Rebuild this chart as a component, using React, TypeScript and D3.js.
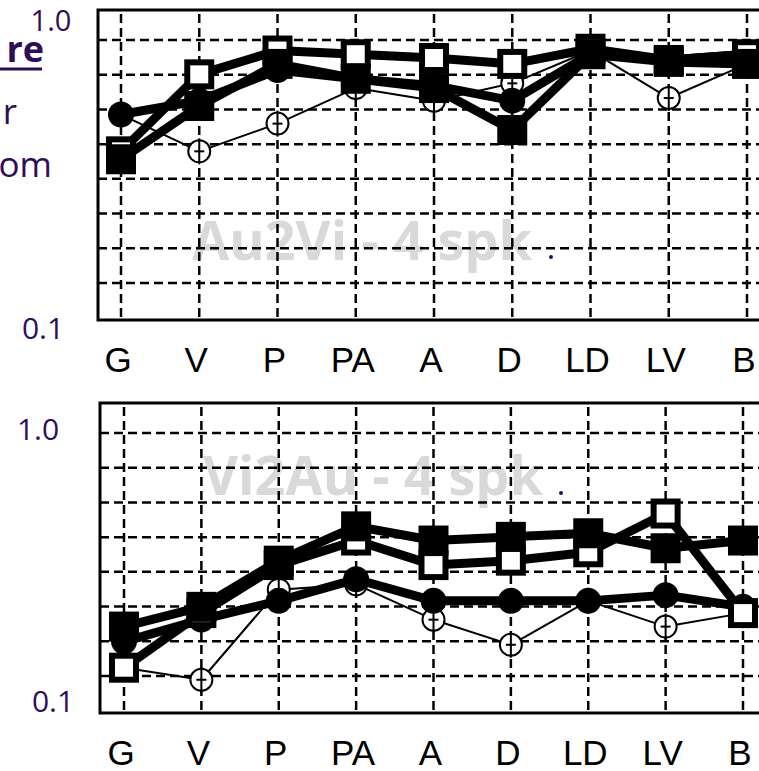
import React from "react";
import * as d3 from "d3";

const categories = ["G", "V", "P", "PA", "A", "D", "LD", "LV", "B"];

// Panel 1: Au2Vi - 4 spk.
const au2viFilledSq = [0.33, 0.49, 0.67, 0.6, 0.56, 0.41, 0.72, 0.68, 0.67];
const au2viOpenSq = [0.35, 0.62, 0.74, 0.72, 0.7, 0.67, 0.75, 0.69, 0.72];
const au2viFilledCirc = [0.46, 0.51, 0.64, 0.6, 0.57, 0.51, 0.72, 0.69, 0.72];
const au2viOpenCirc = [0.46, 0.35, 0.43, 0.56, 0.51, 0.58, 0.74, 0.52, 0.67];

// Panel 2: Vi2Au - 4 spk.
const vi2auFilledSq = [0.19, 0.22, 0.31, 0.4, 0.36, 0.37, 0.38, 0.34, 0.36];
const vi2auOpenSq = [0.14, 0.21, 0.3, 0.36, 0.3, 0.31, 0.33, 0.44, 0.21];
const vi2auFilledCirc = [0.17, 0.2, 0.23, 0.27, 0.23, 0.23, 0.23, 0.24, 0.22];
const vi2auOpenCirc = [0.14, 0.128, 0.25, 0.26, 0.2, 0.166, 0.23, 0.19, 0.21];

const yDomain = [0.1, 1.0];
const yTickLabels = ["1.0", "0.1"];

const PURPLE = "#2f0d57";

type Series = { values: number[]; kind: "fsq" | "osq" | "fc" | "oc" };

function Panel({
  top,
  left,
  xStart,
  xEnd,
  title,
  titleX,
  series,
}: {
  top: number;
  left: number;
  xStart: number;
  xEnd: number;
  title: string;
  titleX: number;
  series: Series[];
}) {
  const bottom = top + 310;
  const x = d3.scalePoint<string>().domain(categories).range([xStart, xEnd]);
  const y = d3.scaleLog().domain(yDomain).range([bottom, top]);
  const grid = d3.scaleLinear().domain([0, 7]).range([top + 30, top + 273]);
  const gridSteps = d3.range(8);
  const right = 800;
  const line = (vals: number[]) =>
    d3
      .line<number>()
      .x((_, i) => x(categories[i]) as number)
      .y((v) => y(v))(vals) as string;

  return (
    <g>
      <rect x={left} y={top} width={right - left} height={bottom - top} fill="#fff" />
      {/* watermark */}
      <text
        x={titleX}
        y={top + (top > 100 ? 92 : 250)}
        fontFamily="'Open Sans', sans-serif"
        fontWeight={700}
        fontSize={54}
        fill="#d9d9d9"
      >
        {title}
      </text>
      {/* gridlines */}
      {gridSteps.map((k) => (
        <line
          key={"h" + k}
          x1={left}
          x2={right}
          y1={grid(k)}
          y2={grid(k)}
          stroke="#000"
          strokeWidth={2.5}
          strokeDasharray="9,5"
        />
      ))}
      {categories.map((c) => (
        <line
          key={"v" + c}
          x1={x(c)}
          x2={x(c)}
          y1={top + 4}
          y2={bottom}
          stroke="#000"
          strokeWidth={2.5}
          strokeDasharray="9,5"
        />
      ))}
      {/* lines */}
      {series.map((s, si) => (
        <path
          key={"l" + si}
          d={line(s.values)}
          fill="none"
          stroke="#000"
          strokeWidth={s.kind === "oc" ? 2 : 9}
          strokeLinejoin="round"
        />
      ))}
      {/* markers */}
      {series.map((s, si) =>
        s.values.map((v, i) => {
          const cx = x(categories[i]) as number;
          const cy = y(v);
          if (s.kind === "fsq")
            return <rect key={si + "-" + i} x={cx - 15} y={cy - 15} width={30} height={30} fill="#000" />;
          if (s.kind === "osq")
            return (
              <rect
                key={si + "-" + i}
                x={cx - 12}
                y={cy - 12}
                width={24}
                height={24}
                fill="#fff"
                stroke="#000"
                strokeWidth={6}
              />
            );
          if (s.kind === "fc")
            return <circle key={si + "-" + i} cx={cx} cy={cy} r={13} fill="#000" />;
          return (
            <g key={si + "-" + i}>
              <circle cx={cx} cy={cy} r={11} fill="#fff" stroke="#000" strokeWidth={2} />
              <line x1={cx} x2={cx} y1={cy - 13} y2={cy + 13} stroke="#000" strokeWidth={2} />
              <line x1={cx - 5} x2={cx + 5} y1={cy} y2={cy} stroke="#000" strokeWidth={2} />
            </g>
          );
        })
      )}
      {/* frame */}
      <rect x={left} y={top} width={right - left} height={bottom - top} fill="none" stroke="#000" strokeWidth={3} />
      {/* x labels */}
      {categories.map((c) => (
        <text
          key={"t" + c}
          x={(x(c) as number) - 3}
          y={bottom + 52}
          textAnchor="middle"
          fontFamily="'Liberation Sans', Arial, sans-serif"
          fontSize={35}
          fill="#000"
        >
          {c}
        </text>
      ))}
    </g>
  );
}

export default function App() {
  return (
    <svg
      width={759}
      height={771}
      style={{ position: "absolute", left: 0, top: 0, background: "#fff" }}
      fontFamily="'Open Sans', sans-serif"
    >
      <rect width={759} height={771} fill="#fff" />
      {/* slide text fragments */}
      <text x={44} y={62} textAnchor="end" fontWeight={700} fontSize={36} fill={PURPLE}>
        re
      </text>
      <line x1={0} x2={42} y1={69} y2={69} stroke={PURPLE} strokeWidth={3} />
      <text x={17} y={124} textAnchor="end" fontSize={35} fill={PURPLE}>
        r
      </text>
      <text x={52} y={177} textAnchor="end" fontSize={35} fill={PURPLE}>
        om
      </text>

      <Panel
        top={10}
        left={98}
        xStart={121}
        xEnd={747}
        title="Au2Vi - 4 spk"
        titleX={192}
        series={[
          { values: au2viOpenCirc, kind: "oc" },
          { values: au2viFilledCirc, kind: "fc" },
          { values: au2viOpenSq, kind: "osq" },
          { values: au2viFilledSq, kind: "fsq" },
        ]}
      />
      <Panel
        top={403}
        left={100}
        xStart={124}
        xEnd={743}
        title="Vi2Au - 4 spk"
        titleX={203}
        series={[
          { values: vi2auOpenCirc, kind: "oc" },
          { values: vi2auFilledCirc, kind: "fc" },
          { values: vi2auOpenSq, kind: "osq" },
          { values: vi2auFilledSq, kind: "fsq" },
        ]}
      />
      {/* purple periods */}
      <circle cx={551} cy={257} r={2} fill={PURPLE} />
      <circle cx={561} cy={493} r={2} fill={PURPLE} />

      {/* y labels */}
      <text x={51} y={31} textAnchor="middle" fontSize={29} fill={PURPLE}>
        {yTickLabels[0]}
      </text>
      <text x={43} y={339} textAnchor="middle" fontSize={30} fill={PURPLE}>
        {yTickLabels[1]}
      </text>
      <text x={38} y={440} textAnchor="middle" fontSize={30} fill={PURPLE}>
        {yTickLabels[0]}
      </text>
      <text x={53} y={712} textAnchor="middle" fontSize={30} fill={PURPLE}>
        {yTickLabels[1]}
      </text>
    </svg>
  );
}
